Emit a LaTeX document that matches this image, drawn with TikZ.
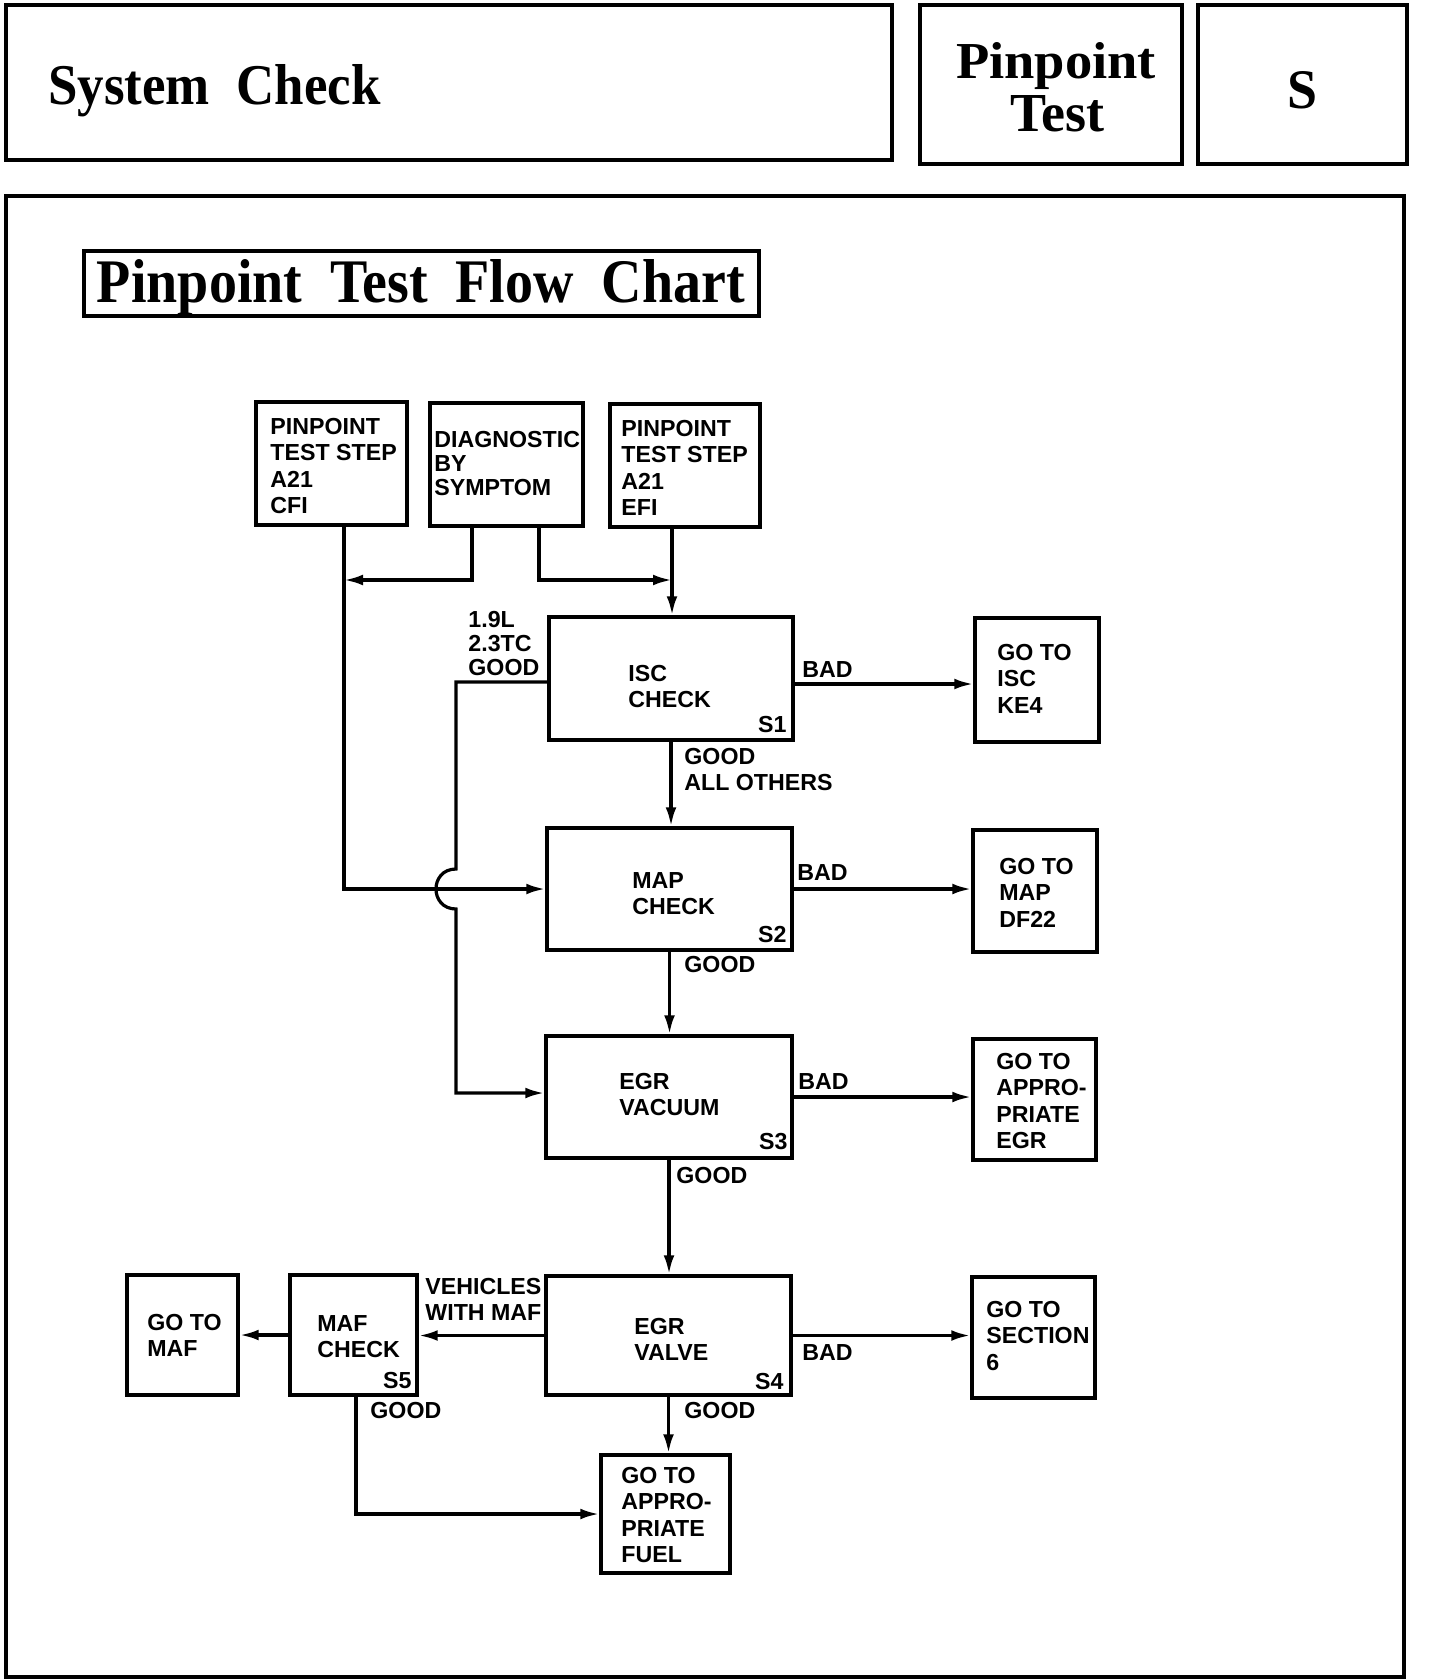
\documentclass[tikz,border=0pt]{standalone}
\usepackage{fontspec}
\usepackage{graphicx}
\newfontfamily\flowfont{Liberation Sans}
\newfontfamily\headfont{Liberation Serif}
\usetikzlibrary{arrows.meta,fit,calc}
\begin{document}
\begin{tikzpicture}[x=0.5pt,y=-0.5pt,
  hbox/.style={draw, line width=2pt, inner sep=0pt},
  tbox/.style={draw, line width=1.6pt, inner sep=0pt},
  fbox/.style={draw, line width=1.7pt, inner sep=0pt},
  txt/.style={inner sep=0pt, align=left, font={\flowfont\bfseries\fontsize{11.6pt}{13.1pt}\selectfont}},
  tighttxt/.style={inner sep=0pt, align=left, font={\flowfont\bfseries\fontsize{11.6pt}{12pt}\selectfont}},
  arr/.style={line width=1.6pt, -{Latex[length=9.5pt,width=5.4pt]}},
  head/.style={inner sep=0pt, font={\headfont\bfseries}}
]
\useasboundingbox (0,0) rectangle (1440,1680);
% header
\node[hbox, fit={(6,5) (892,160)}] (sysbox) {};
\node[hbox, fit={(920,5) (1182,164)}] (ptbox) {};
\node[hbox, fit={(1198,5) (1407,164)}] (sbox) {};
\node[hbox, fit={(6,196) (1404,1677)}] (frame) {};
\node[tbox, fit={(84,251) (759,316)}] (titlebox) {};
\node[head, anchor=base west] (systxt) at (48,105) {\resizebox{166pt}{20pt}{System\hspace{0.5em}Check}};
\node[head, anchor=base] (pttxt1) at (1056,79) {\resizebox{100pt}{18pt}{Pinpoint}};
\node[head, anchor=base] (pttxt2) at (1057,132) {\resizebox{47pt}{18pt}{Test}};
\node[head, anchor=base] (stxt) at (1302,109) {\resizebox{15pt}{18.5pt}{S}};
\node[head, anchor=base] (titletxt) at (421,303) {\resizebox{324pt}{21.5pt}{Pinpoint\hspace{0.5em}Test\hspace{0.5em}Flow\hspace{0.5em}Chart}};
% boxes
\node[fbox, fit={(256,402) (407,525)}] (cfi) {};
\node[fbox, fit={(430,403) (583,526)}] (diag) {};
\node[fbox, fit={(610,404) (760,527)}] (efi) {};
\node[fbox, fit={(549,617) (793,740)}] (isc) {};
\node[fbox, fit={(975,618) (1099,742)}] (gisc) {};
\node[fbox, fit={(547,828) (792,950)}] (map) {};
\node[fbox, fit={(973,830) (1097,952)}] (gmap) {};
\node[fbox, fit={(546,1036) (792,1158)}] (egrv) {};
\node[fbox, fit={(973,1039) (1096,1160)}] (gegr) {};
\node[fbox, fit={(546,1276) (791,1395)}] (valve) {};
\node[fbox, fit={(972,1277) (1095,1398)}] (gsec) {};
\node[fbox, fit={(290,1275) (417,1395)}] (maf) {};
\node[fbox, fit={(127,1275) (238,1395)}] (gmaf) {};
\node[fbox, fit={(601,1455) (730,1573)}] (fuel) {};
% box texts
\node[txt, anchor=north west] (cfit) at (270,418) {PINPOINT\\TEST STEP\\A21\\CFI};
\node[tighttxt, anchor=north west] (diagt) at (434,431) {DIAGNOSTIC\\BY\\SYMPTOM};
\node[txt, anchor=north west] (efit) at (621,420) {PINPOINT\\TEST STEP\\A21\\EFI};
\node[txt, anchor=north west] (isct) at (628,665) {ISC\\CHECK};
\node[txt, anchor=north west] (mapt) at (632,872) {MAP\\CHECK};
\node[txt, anchor=north west] (egrvt) at (619,1073) {EGR\\VACUUM};
\node[txt, anchor=north west] (valvet) at (634,1318) {EGR\\VALVE};
\node[txt, anchor=north west] (maft) at (317,1315) {MAF\\CHECK};
\node[txt, anchor=north west] (gmaft) at (147,1314) {GO TO\\MAF};
\node[txt, anchor=north west] (gisct) at (997,644) {GO TO\\ISC\\KE4};
\node[txt, anchor=north west] (gmapt) at (999,858) {GO TO\\MAP\\DF22};
\node[txt, anchor=north west] (gegrt) at (996,1053) {GO TO\\APPRO-\\PRIATE\\EGR};
\node[txt, anchor=north west] (gsect) at (986,1301) {GO TO\\SECTION\\6};
\node[txt, anchor=north west] (fuelt) at (621,1467) {GO TO\\APPRO-\\PRIATE\\FUEL};
\node[txt, anchor=east] (s1) at (787,725) {S1};
\node[txt, anchor=east] (s2) at (787,935) {S2};
\node[txt, anchor=east] (s3) at (788,1142) {S3};
\node[txt, anchor=east] (s4) at (784,1381) {S4};
\node[txt, anchor=east] (s5) at (412,1380) {S5};
% coordinates
\coordinate (cfiout) at (344,525);
\coordinate (cfij) at (344,580);
\coordinate (dgl) at (472,526);
\coordinate (dgr) at (539,526);
\coordinate (efiout) at (672,527);
\coordinate (efij) at (672,580);
\coordinate (iscl) at (549,682);
\coordinate (iscr) at (793,684);
\coordinate (mafout) at (356,1395);
% connectors
\draw[arr] (cfiout) |- (map.west);
\draw[arr] (dgl) |- (cfij);
\draw[arr] (dgr) |- (efij);
\draw[arr] (efiout) -- (efiout |- isc.north);
\draw[arr] (iscl) -- (456,682) -- (456,869) .. controls (429.3,869) and (429.3,909) .. (456,909) -- (456,1093) -- (egrv.west |- 0,1093);
\draw[arr] (iscr) -- (iscr -| gisc.west);
\draw[arr] (isc.south) -- (isc.south |- map.north);
\draw[arr] (map.east) -- (map.east -| gmap.west);
\draw[arr] (map.south) -- (map.south |- egrv.north);
\draw[arr] (egrv.east) -- (egrv.east -| gegr.west);
\draw[arr] (egrv.south) -- (egrv.south |- valve.north);
\draw[arr] (valve.east) -- (valve.east -| gsec.west);
\draw[arr] (valve.west) -- (valve.west -| maf.east);
\draw[arr] (maf.west) -- (maf.west -| gmaf.east);
\draw[arr] (valve.south) -- (valve.south |- fuel.north);
\draw[arr] (mafout) |- (fuel.west);
% labels
\node[tighttxt, anchor=north west] (l19) at (468,611) {1.9L\\2.3TC\\GOOD};
\node[txt, anchor=west] (bad1) at (802,670) {BAD};
\node[txt, anchor=north west] (good1) at (684,748) {GOOD\\ALL OTHERS};
\node[txt, anchor=west] (bad2) at (797,873) {BAD};
\node[txt, anchor=west] (good2) at (684,965) {GOOD};
\node[txt, anchor=west] (bad3) at (798,1082) {BAD};
\node[txt, anchor=west] (good3) at (676,1175) {GOOD};
\node[txt, anchor=west] (bad4) at (802,1353) {BAD};
\node[txt, anchor=north west] (veh) at (425,1278) {VEHICLES\\WITH MAF};
\node[txt, anchor=west] (good4) at (684,1410) {GOOD};
\node[txt, anchor=west] (good5) at (370,1410) {GOOD};
\end{tikzpicture}
\end{document}
